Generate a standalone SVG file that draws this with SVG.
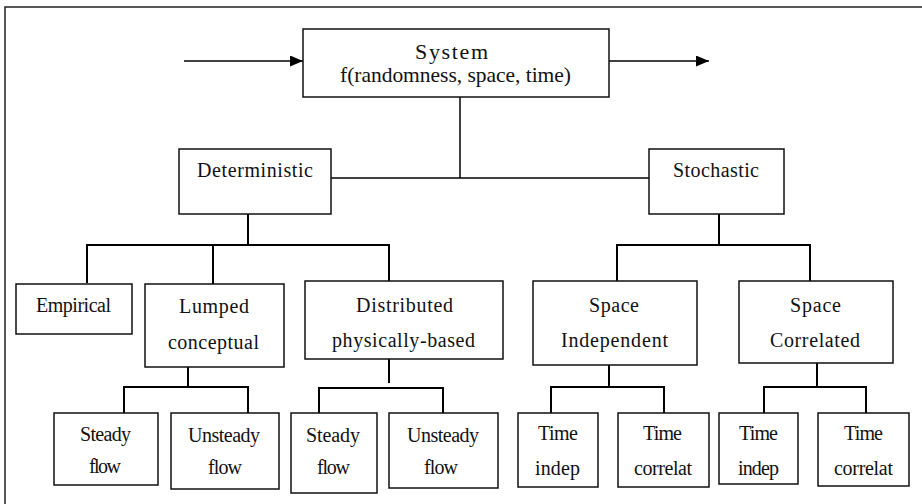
<svg xmlns="http://www.w3.org/2000/svg" width="922" height="504" viewBox="0 0 922 504">
<style>
.box{fill:#fff;stroke:#111;stroke-width:1.5}
.frame{fill:#fff;stroke:#222;stroke-width:1.5}
.c{fill:none;stroke:#000;stroke-width:1.5}
.c2{fill:none;stroke:#000;stroke-width:2}
</style>
<defs>
<marker id="ah" markerWidth="13" markerHeight="11" refX="13" refY="5.5" orient="auto" markerUnits="userSpaceOnUse">
<path d="M0,0 L13,5.5 L0,11 Z" fill="#000"/>
</marker>
</defs>
<rect class="frame" x="5" y="7" width="930" height="510"/>
<g id="connectors">
<line class="c" x1="184" y1="61" x2="303" y2="61" marker-end="url(#ah)"/>
<line class="c" x1="609" y1="61" x2="709" y2="61" marker-end="url(#ah)"/>
<polyline class="c" points="460,97 460,178"/>
<line class="c" x1="331" y1="178" x2="649" y2="178"/>
<line class="c2" x1="248" y1="214" x2="248" y2="245"/>
<polyline class="c2" points="87,283 87,245 389,245 389,284"/>
<line class="c2" x1="213" y1="245" x2="213" y2="284"/>
<line class="c2" x1="719" y1="214" x2="719" y2="245"/>
<polyline class="c2" points="617,281 617,245 810,245 810,281"/>
<line class="c2" x1="188" y1="352" x2="188" y2="387"/>
<polyline class="c2" points="124,413 124,387 248,387 248,413"/>
<line class="c2" x1="389" y1="338" x2="389" y2="383"/>
<polyline class="c2" points="319,413 319,388 443,388 443,413"/>
<line class="c2" x1="609" y1="350" x2="609" y2="387"/>
<polyline class="c2" points="551,413 551,387 664,387 664,413"/>
<line class="c2" x1="817" y1="350" x2="817" y2="387"/>
<polyline class="c2" points="764,413 764,387 866,387 866,413"/>
</g>
<g id="nodes" font-family="Liberation Serif, Times New Roman, serif" font-size="20" fill="#111">
<g id="system">
<rect class="box" x="303" y="29" width="306" height="68"/>
<text x="415" y="59" font-size="22" textLength="73">System</text>
<text x="340" y="82" font-size="21.5" textLength="231">f(randomness, space, time)</text>
</g>
<g id="deterministic">
<rect class="box" x="179" y="149" width="152" height="65"/>
<text x="197" y="177" textLength="116">Deterministic</text>
</g>
<g id="stochastic">
<rect class="box" x="649" y="149" width="135" height="65"/>
<text x="673" y="177" textLength="86">Stochastic</text>
</g>
<g id="empirical">
<rect class="box" x="16" y="284" width="116" height="50"/>
<text x="36" y="312" textLength="75">Empirical</text>
</g>
<g id="lumped">
<rect class="box" x="145" y="284" width="139" height="83"/>
<text x="179" y="313" textLength="70">Lumped</text>
<text x="168" y="349" textLength="91">conceptual</text>
</g>
<g id="distributed">
<rect class="box" x="305" y="281" width="198" height="78"/>
<text x="356" y="312" textLength="97">Distributed</text>
<text x="332" y="347" textLength="143">physically-based</text>
</g>
<g id="space-independent">
<rect class="box" x="533" y="281" width="164" height="84"/>
<text x="589" y="312" textLength="50">Space</text>
<text x="561" y="347" textLength="107">Independent</text>
</g>
<g id="space-correlated">
<rect class="box" x="739" y="281" width="154" height="82"/>
<text x="790" y="312" textLength="51">Space</text>
<text x="770" y="347" textLength="90">Correlated</text>
</g>
<g id="lumped-steady">
<rect class="box" x="54" y="413" width="104" height="72"/>
<text x="80" y="441" textLength="51">Steady</text>
<text x="89" y="473" textLength="32">flow</text>
</g>
<g id="lumped-unsteady">
<rect class="box" x="171" y="413" width="108" height="76"/>
<text x="188" y="442" textLength="72">Unsteady</text>
<text x="208" y="474" textLength="34">flow</text>
</g>
<g id="dist-steady">
<rect class="box" x="291" y="413" width="86" height="80"/>
<text x="306" y="442" textLength="54">Steady</text>
<text x="317" y="474" textLength="33">flow</text>
</g>
<g id="dist-unsteady">
<rect class="box" x="389" y="413" width="109" height="75"/>
<text x="407" y="442" textLength="72">Unsteady</text>
<text x="424" y="474" textLength="34">flow</text>
</g>
<g id="si-time-indep">
<rect class="box" x="518" y="413" width="80" height="74"/>
<text x="538" y="440" textLength="40">Time</text>
<text x="535" y="475" textLength="45">indep</text>
</g>
<g id="si-time-correlat">
<rect class="box" x="618" y="413" width="91" height="74"/>
<text x="643" y="440" textLength="39">Time</text>
<text x="634" y="475" textLength="58">correlat</text>
</g>
<g id="sc-time-indep">
<rect class="box" x="719" y="413" width="79" height="71"/>
<text x="739" y="440" textLength="39">Time</text>
<text x="738" y="475" textLength="41">indep</text>
</g>
<g id="sc-time-correlat">
<rect class="box" x="818" y="413" width="91" height="73"/>
<text x="844" y="440" textLength="39">Time</text>
<text x="834" y="475" textLength="59">correlat</text>
</g>
</g>
</svg>
